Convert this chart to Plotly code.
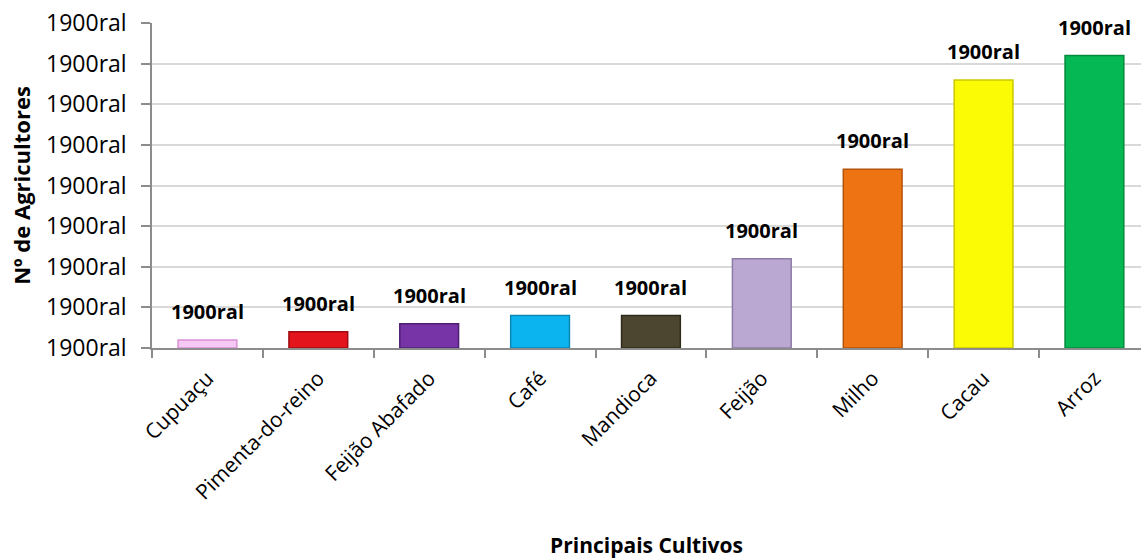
import plotly.graph_objects as go

# Principais cultivos e número de agricultores
cultivos = ["Cupuaçu", "Pimenta-do-reino", "Feijão Abafado", "Café", "Mandioca",
            "Feijão", "Milho", "Cacau", "Arroz"]
agricultores = [1, 2, 3, 4, 4, 11, 22, 33, 36]
cores = ["#F6C8F4", "#E3141C", "#7634A6", "#0BB4EE", "#4C4630",
         "#BBA8D2", "#EE7413", "#FBFB05", "#05B853"]
bordas = ["#D98FD6", "#9E0B10", "#4E1F72", "#0A86B3", "#2E2A1B",
          "#8D7BA5", "#B3540A", "#C9C900", "#048A3D"]
rotulo_valor = "1900ral"
y_ticks = [0, 5, 10, 15, 20, 25, 30, 35, 40]
y_tick_text = ["1900ral"] * len(y_ticks)

fig = go.Figure()
fig.add_trace(go.Bar(
    x=cultivos,
    y=agricultores,
    width=0.53,
    marker=dict(color=cores, line=dict(color=bordas, width=1.5)),
    hoverinfo="x+y",
))

for c, v in zip(cultivos, agricultores):
    fig.add_annotation(
        x=c, y=v, text=rotulo_valor, showarrow=False,
        yanchor="bottom", yshift=13,
        font=dict(family="Open Sans", size=20, color="#000000", weight="bold"),
    )

fig.update_layout(
    width=1141, height=559,
    margin=dict(l=152, r=0, t=23, b=211),
    paper_bgcolor="white", plot_bgcolor="white",
    showlegend=False,
    font=dict(family="Open Sans", color="#000000"),
    xaxis=dict(
        range=[-0.5, 8.42],
        tickangle=-45,
        tickfont=dict(size=21),
        ticklabelstandoff=8,
        showline=True, linecolor="#8C8C8C", linewidth=1.5,
        ticks="outside", ticklen=8, tickcolor="#8C8C8C", tickwidth=1.5,
        tickson="boundaries",
        showgrid=False,
        title=dict(text="<b>Principais Cultivos</b>", font=dict(size=21), standoff=36),
    ),
    yaxis=dict(
        range=[0, 40],
        tickvals=y_ticks, ticktext=y_tick_text,
        tickfont=dict(size=23),
        ticklabelstandoff=10,
        showline=True, linecolor="#8C8C8C", linewidth=1.5,
        ticks="outside", ticklen=9, tickcolor="#8C8C8C", tickwidth=1.5,
        showgrid=True, gridcolor="#D9D9D9", gridwidth=1.5,
        zeroline=False,
        title=dict(text="<b>Nº de Agricultores</b>", font=dict(size=22), standoff=9),
    ),
)

fig.write_html("out.html")
